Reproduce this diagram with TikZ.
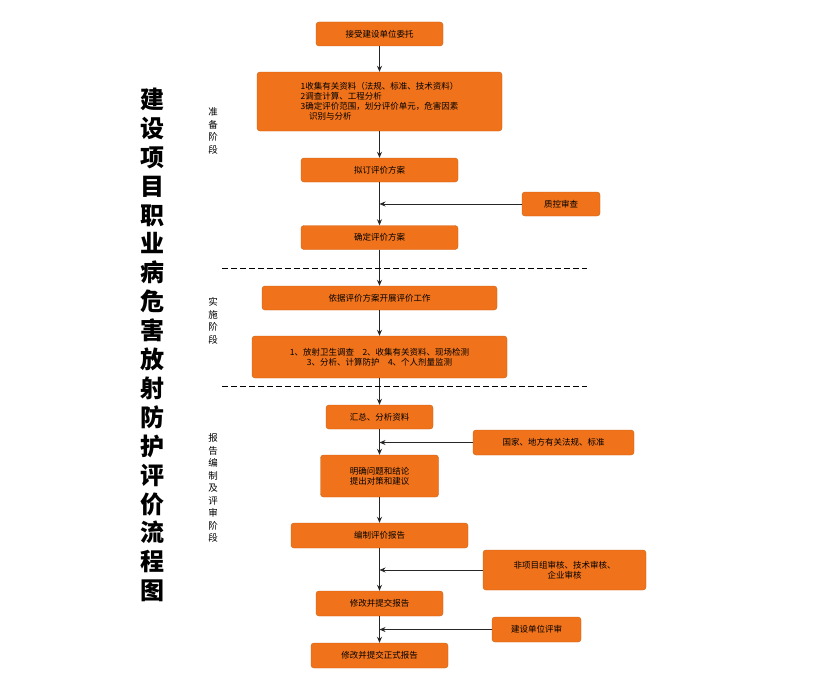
\documentclass[tikz,border=0pt]{standalone}
\usepackage{fontspec}
\setmainfont{Noto Sans CJK SC}
\usetikzlibrary{arrows.meta}
\definecolor{boxOrange}{RGB}{240,114,26}
\tikzset{
	stepBox/.style={
		draw=boxOrange!85!black,
		fill=boxOrange,
		rounded corners=3pt,
		text=black,
		font=\fontsize{8.5}{10}\selectfont,
		align=center,
		inner sep=0pt
	},
	flowArr/.style={
		draw=black!85,
		thick,
		-{Stealth[length=6pt,width=5pt]}
	},
	stageText/.style={
		font=\fontsize{9.5}{12.5}\selectfont,
		align=center
	},
}
\begin{document}
\begin{tikzpicture}[x=1pt,y=-1pt]
\useasboundingbox[fill=white] (0,0) rectangle (829,693);
% main flow
\node[stepBox, minimum width=127, minimum height=24] (s1) at (379.5,34) {接受建设单位委托};
\node[stepBox, minimum width=245, minimum height=59, align=left] (s2) at (379.5,101.5)
	{1收集有关资料（法规、标准、技术资料）\\2调查计算、工程分析\\3确定评价范围，划分评价单元，危害因素\\\hspace*{1em}识别与分析};
\node[stepBox, minimum width=157, minimum height=24] (s3) at (379.5,170) {拟订评价方案};
\node[stepBox, minimum width=157, minimum height=24] (s4) at (379.5,237.5) {确定评价方案};
\node[stepBox, minimum width=235, minimum height=24] (s5) at (379.5,298) {依据评价方案开展评价工作};
\node[stepBox, minimum width=255, minimum height=42] (s6) at (379.5,357)
	{1、放射卫生调查\quad 2、收集有关资料、现场检测\\3、分析、计算防护\quad 4、个人剂量监测};
\node[stepBox, minimum width=107, minimum height=24] (s7) at (379.5,417) {汇总、分析资料};
\node[stepBox, minimum width=118, minimum height=42] (s8) at (379.5,476) {明确问题和结论\\提出对策和建议};
\node[stepBox, minimum width=177, minimum height=25] (s9) at (379.5,535.5) {编制评价报告};
\node[stepBox, minimum width=127, minimum height=25] (s10) at (379.5,603.5) {修改并提交报告};
\node[stepBox, minimum width=137, minimum height=25] (s11) at (379.5,655.5) {修改并提交正式报告};
% side inputs
\node[stepBox, minimum width=78, minimum height=24] (q1) at (561,204) {质控审查};
\node[stepBox, minimum width=161, minimum height=25] (q2) at (553.5,442.5) {国家、地方有关法规、标准};
\node[stepBox, minimum width=163, minimum height=40] (q3) at (564.5,570) {非项目组审核、技术审核、\\企业审核};
\node[stepBox, minimum width=89, minimum height=25] (q4) at (536.5,629.5) {建设单位评审};
\foreach \a/\b in {s1/s2,s2/s3,s3/s4,s4/s5,s5/s6,s6/s7,s7/s8,s8/s9,s9/s10,s10/s11}
	\draw[flowArr] (\a) -- (\b);
\foreach \q in {q1,q2,q3,q4}
	\draw[flowArr] (\q.west) -- (\q.west -| s1.south);
% stage separators
\coordinate (d1l) at (222,268); \coordinate (d1r) at (587,268);
\coordinate (d2l) at (222,386); \coordinate (d2r) at (587,386);
\draw[thick, dash pattern=on 6pt off 3pt] (d1l) -- (d1r);
\draw[thick, dash pattern=on 6pt off 3pt] (d2l) -- (d2r);
% labels
\node[font=\bfseries\fontsize{24}{28.9}\selectfont, align=center] (title) at (152,345)
	{建\\设\\项\\目\\职\\业\\病\\危\\害\\放\\射\\防\\护\\评\\价\\流\\程\\图};
\node[stageText] (st1) at (213,131) {准\\备\\阶\\段};
\node[stageText] (st2) at (213,321) {实\\施\\阶\\段};
\node[stageText] (st3) at (213,488) {报\\告\\编\\制\\及\\评\\审\\阶\\段};
\end{tikzpicture}
\end{document}
